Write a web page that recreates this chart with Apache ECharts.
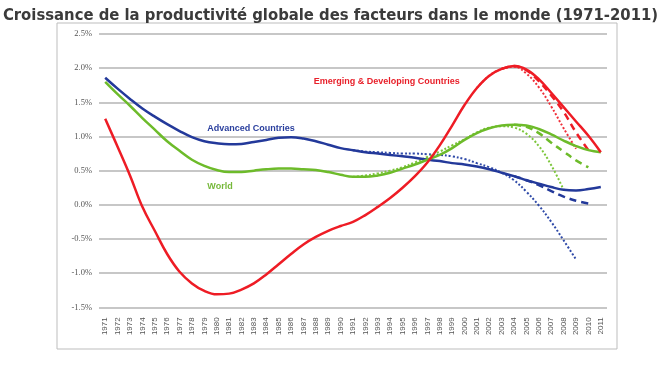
<!DOCTYPE html>
<html>
<head>
<meta charset="utf-8">
<script src="https://cdn.jsdelivr.net/npm/echarts@6/dist/echarts.min.js"></script>
<style>html,body{margin:0;padding:0;background:#fff;}#c{width:661px;height:371px;}</style>
</head>
<body>
<div id="c"></div>
<script>
var years = ['1971','1972','1973','1974','1975','1976','1977','1978','1979','1980',
  '1981','1982','1983','1984','1985','1986','1987','1988','1989','1990',
  '1991','1992','1993','1994','1995','1996','1997','1998','1999','2000',
  '2001','2002','2003','2004','2005','2006','2007','2008','2009','2010','2011'];

var advanced = [1.86,1.70,1.55,1.41,1.29,1.18,1.08,0.99,0.93,0.90,
  0.885,0.89,0.92,0.95,0.98,0.99,0.97,0.93,0.88,0.83,
  0.80,0.77,0.75,0.73,0.71,0.69,0.66,0.64,0.61,0.59,
  0.56,0.52,0.47,0.42,0.36,0.31,0.26,0.22,0.21,0.23,0.26];
var world = [1.80,1.62,1.45,1.27,1.10,0.93,0.79,0.66,0.57,0.51,
  0.48,0.48,0.50,0.52,0.53,0.53,0.52,0.51,0.48,0.44,
  0.41,0.41,0.43,0.47,0.53,0.59,0.66,0.73,0.83,0.95,
  1.05,1.12,1.16,1.17,1.16,1.11,1.03,0.94,0.86,0.80,0.77];
var emerging = [1.26,0.85,0.43,-0.03,-0.38,-0.72,-0.98,-1.15,-1.26,-1.31,
  -1.30,-1.24,-1.15,-1.02,-0.87,-0.72,-0.58,-0.47,-0.38,-0.31,
  -0.25,-0.15,-0.03,0.10,0.25,0.42,0.62,0.87,1.16,1.46,
  1.71,1.89,1.99,2.03,1.98,1.84,1.64,1.43,1.22,1.01,0.77];

// alternative scenarios (dotted / dashed), keyed by start year
var advancedDottedStart = '1991';
var advancedDotted = [0.80,0.78,0.77,0.76,0.75,0.75,0.74,0.73,0.71,0.67,0.61,0.55,0.47,0.36,0.19,-0.01,-0.25,-0.52,-0.80];
var advancedDashedStart = '2004';
var advancedDashed = [0.42,0.36,0.29,0.20,0.12,0.06,0.02];
var worldDottedStart = '1991';
var worldDotted = [0.41,0.43,0.46,0.50,0.55,0.62,0.70,0.78,0.87,0.96,1.06,1.13,1.15,1.13,1.04,0.86,0.58,0.22];
var worldDashedStart = '2004';
var worldDashed = [1.17,1.14,1.05,0.91,0.78,0.65,0.55];
var emergingDottedStart = '2001';
var emergingDotted = [1.71,1.89,1.99,2.02,1.92,1.72,1.44,1.12,0.82];
var emergingDashedStart = '2003';
var emergingDashed = [1.99,2.03,1.97,1.81,1.60,1.36,1.06,0.80];

var yTicks = {min: -1.5, max: 2.5, step: 0.5};

function place(start, vals) {
  var out = years.map(function(){ return null; });
  var i0 = years.indexOf(start);
  vals.forEach(function(v, k){ out[i0 + k] = v; });
  return out;
}

var BLUE = '#23399a', GREEN = '#6dbb2a', RED = '#ee1c25';

function line(name, data, color, type, width, z) {
  return {
    name: name, type: 'line', data: data, smooth: 0.4, showSymbol: false, symbol: 'none',
    connectNulls: false, z: z,
    lineStyle: {color: color, width: width, type: type},
    emphasis: {disabled: true}
  };
}

function tag(text, cat, val, color, dx) {
  return {
    name: text, type: 'scatter', data: [], silent: true,
    markPoint: {
      symbol: 'circle', symbolSize: 0, silent: true,
      data: [{coord: [cat, val]}],
      label: {show: true, formatter: text, position: 'inside', align: 'left', offset: [dx, 0],
        color: color, fontFamily: 'Liberation Sans, Arial, sans-serif', fontWeight: 'bold', fontSize: 9}
    }
  };
}

var chart = echarts.init(document.getElementById('c'), null, {renderer: 'canvas'});
chart.setOption({
  animation: false,
  backgroundColor: '#ffffff',
  title: {
    text: 'Croissance de la productivité globale des facteurs dans le monde (1971-2011)',
    left: 'center', top: 2,
    textStyle: {fontFamily: 'DejaVu Sans Condensed, sans-serif', fontWeight: 'bold', fontSize: 16.5, color: '#3b3b3b'}
  },
  graphic: [{
    type: 'rect', z: -1, silent: true,
    shape: {x: 57, y: 23, width: 560, height: 326},
    style: {fill: 'none', stroke: '#bdbdbd', lineWidth: 1}
  }],
  grid: {left: 99, right: 54, top: 34, bottom: 63.7},
  xAxis: {
    type: 'category', data: years, boundaryGap: true,
    axisLine: {show: false}, axisTick: {show: false},
    axisLabel: {rotate: 90, interval: 0, margin: 10, fontSize: 8, color: '#555555', fontFamily: 'Liberation Sans, Arial, sans-serif'}
  },
  yAxis: {
    type: 'value', min: yTicks.min, max: yTicks.max, interval: yTicks.step,
    axisLine: {show: false}, axisTick: {show: false},
    splitLine: {lineStyle: {color: '#b4b4b4', width: 1.5}},
    axisLabel: {margin: 7, fontSize: 8.5, color: '#555555', fontFamily: 'Liberation Serif, Times New Roman, serif',
      formatter: function(v){ return v.toFixed(1) + '%'; }}
  },
  series: [
    line('Advanced dotted', place(advancedDottedStart, advancedDotted), '#2f4aa8', 'dotted', 2, 2),
    line('World dotted', place(worldDottedStart, worldDotted), '#7cc63a', 'dotted', 2, 2),
    line('Emerging dotted', place(emergingDottedStart, emergingDotted), '#f0303a', 'dotted', 2, 2),
    line('Advanced dashed', place(advancedDashedStart, advancedDashed), BLUE, [7, 5], 2.5, 3),
    line('World dashed', place(worldDashedStart, worldDashed), GREEN, [7, 5], 2.5, 3),
    line('Emerging dashed', place(emergingDashedStart, emergingDashed), RED, [7, 5], 2.5, 3),
    line('Advanced Countries', advanced, BLUE, 'solid', 2.5, 4),
    line('World', world, GREEN, 'solid', 2.5, 4),
    line('Emerging & Developing Countries', emerging, RED, 'solid', 2.5, 4),
    tag('Advanced Countries', '1979', 1.12, '#2a3f9e', 3),
    tag('World', '1979', 0.27, '#76b83a', 3),
    tag('Emerging & Developing Countries', '1988', 1.80, '#e8202a', -2)
  ]
});
</script>
</body>
</html>
